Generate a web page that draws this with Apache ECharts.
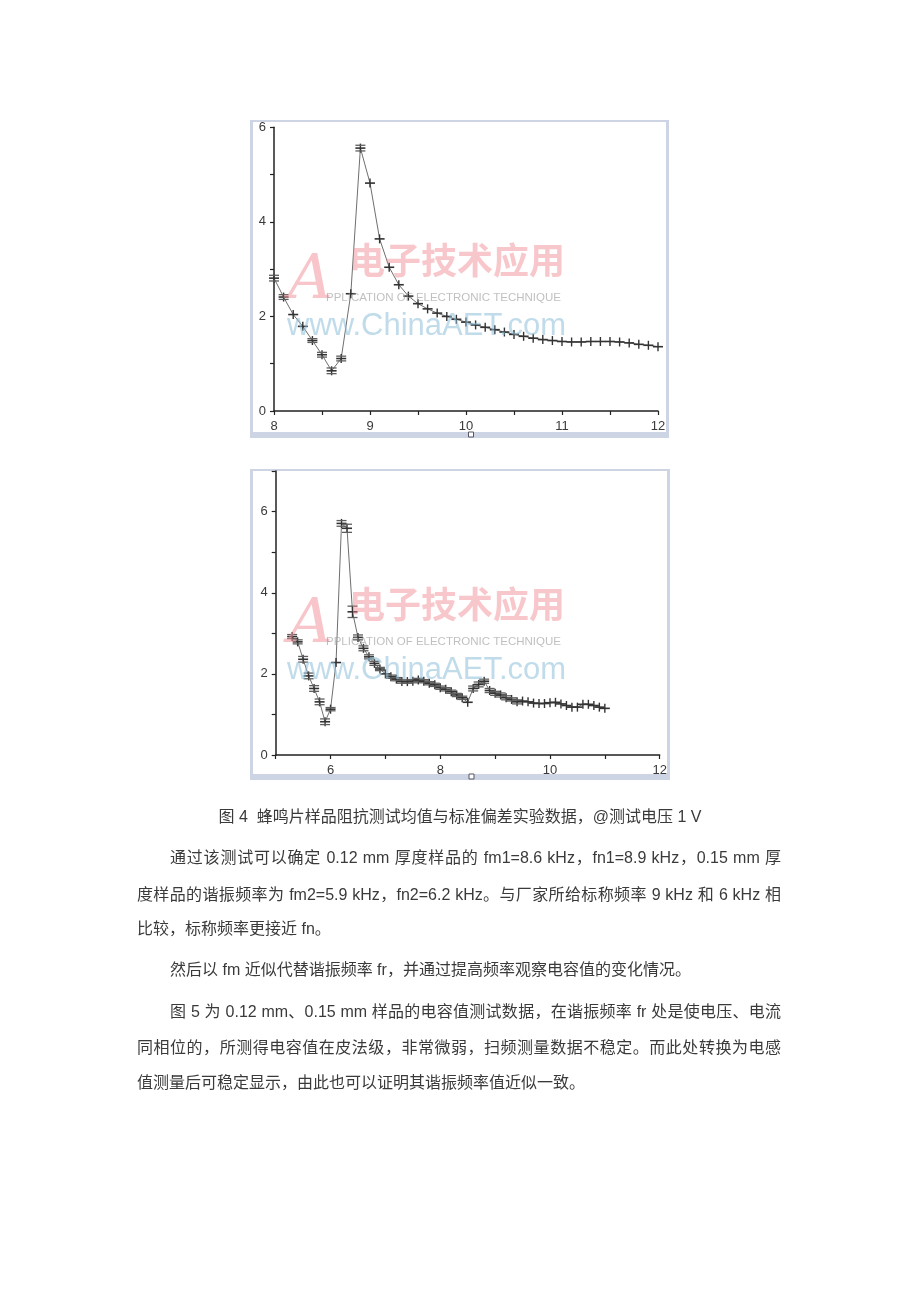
<!DOCTYPE html>
<html>
<head>
<meta charset="utf-8">
<script src="https://cdn.jsdelivr.net/npm/echarts@6/dist/echarts.min.js"></script>
<style>
  html, body { margin: 0; padding: 0; background: #fff; }
  #page { position: relative; width: 920px; height: 1302px; overflow: hidden; }
  #chart { position: absolute; left: 0; top: 0; width: 920px; height: 1302px; }
  .ln { position: absolute; left: 137px; width: 644px; height: 22px; line-height: 22px;
        font-family: "Liberation Sans", "Noto Sans CJK SC", sans-serif; font-size: 16px; color: #3a3a3a;
        white-space: nowrap; }
  .j { text-align: justify; text-align-last: justify; }
  .ind { left: 170px; width: 611px; }
  .cap { left: 0; width: 920px; text-align: center; }
</style>
</head>
<body>
<div id="page">
  <div id="chart"></div>
  <div class="ln cap" style="top:806px">图 4&nbsp; 蜂鸣片样品阻抗测试均值与标准偏差实验数据，@测试电压 1 V</div>
  <div class="ln ind j" style="top:847px">通过该测试可以确定 0.12 mm 厚度样品的 fm1=8.6 kHz，fn1=8.9 kHz，0.15 mm 厚</div>
  <div class="ln j" style="top:884px">度样品的谐振频率为 fm2=5.9 kHz，fn2=6.2 kHz。与厂家所给标称频率 9 kHz 和 6 kHz 相</div>
  <div class="ln" style="top:918px">比较，标称频率更接近 fn。</div>
  <div class="ln ind" style="top:959px">然后以 fm 近似代替谐振频率 fr，并通过提高频率观察电容值的变化情况。</div>
  <div class="ln ind j" style="top:1001px">图 5 为 0.12 mm、0.15 mm 样品的电容值测试数据，在谐振频率 fr 处是使电压、电流</div>
  <div class="ln j" style="top:1037px">同相位的，所测得电容值在皮法级，非常微弱，扫频测量数据不稳定。而此处转换为电感</div>
  <div class="ln" style="top:1072px">值测量后可稳定显示，由此也可以证明其谐振频率值近似一致。</div>
</div>
<script>
// ---------- data ----------
const x1 = [8.0,8.1,8.2,8.3,8.4,8.5,8.6,8.7,8.8,8.9,9.0,9.1,9.2,9.3,9.4,9.5,9.6,9.7,9.8,9.9,10.0,10.1,10.2,10.3,10.4,10.5,10.6,10.7,10.8,10.9,11.0,11.1,11.2,11.3,11.4,11.5,11.6,11.7,11.8,11.9,12.0];
const y1 = [2.81,2.41,2.04,1.79,1.49,1.19,0.85,1.11,2.48,5.56,4.82,3.64,3.04,2.67,2.43,2.27,2.16,2.07,2.00,1.94,1.88,1.82,1.77,1.72,1.67,1.62,1.58,1.54,1.51,1.49,1.47,1.46,1.46,1.47,1.47,1.47,1.46,1.44,1.41,1.39,1.36];
const sd1 = [0.06,0.05,0.03,0.03,0.04,0.05,0.06,0.05,0.02,0.06,0.02,0.03,0.02,0.03,0.03,0.02,0.02,0.02,0.02,0.02,0.02,0.01,0.01,0.01,0.01,0.01,0.01,0.01,0.01,0.01,0.01,0.01,0.01,0.01,0.01,0.01,0.01,0.01,0.01,0.01,0.01];

const x2 = [5.3,5.4,5.5,5.6,5.7,5.8,5.9,6.0,6.1,6.2,6.3,6.4,6.5,6.6,6.7,6.8,6.9,7.0,7.1,7.2,7.3,7.4,7.5,7.6,7.7,7.8,7.9,8.0,8.1,8.2,8.3,8.4,8.5,8.6,8.7,8.8,8.9,9.0,9.1,9.2,9.3,9.4,9.5,9.6,9.7,9.8,9.9,10.0,10.1,10.2,10.3,10.4,10.5,10.6,10.7,10.8,10.9,11.0];
const y2 = [2.92,2.79,2.36,1.95,1.64,1.31,0.82,1.13,2.28,5.71,5.59,3.53,2.90,2.63,2.42,2.26,2.12,2.00,1.93,1.87,1.81,1.81,1.82,1.85,1.82,1.77,1.73,1.66,1.62,1.56,1.48,1.41,1.30,1.64,1.74,1.82,1.59,1.52,1.48,1.41,1.37,1.31,1.33,1.31,1.28,1.27,1.27,1.29,1.30,1.26,1.22,1.18,1.18,1.25,1.25,1.22,1.18,1.15];
const sd2 = [0.05,0.05,0.07,0.07,0.07,0.07,0.07,0.04,0.02,0.07,0.10,0.14,0.06,0.06,0.05,0.05,0.04,0.03,
             0.04,0.04,0.04,0.04,0.04,0.04,0.04,0.04,0.04,0.04,0.04,0.04,0.04,0.04,
             0.02,0.06,0.06,0.05,0.05,0.05,0.05,0.05,0.04,0.05,
             0.02,0.02,0.02,0.02,0.02,0.02,0.02,0.02,0.02,0.02,0.02,0.02,0.02,0.02,0.02,0.02];

const xTicks1 = [8, 9, 10, 11, 12];
const xTicks2 = [6, 8, 10, 12];
const yTicks1 = [0, 2, 4, 6];
const yTicks2 = [0, 2, 4, 6];

// ---------- helpers ----------
function errItem(color, capColor) {
  return function (params, api) {
    const x = api.value(0), y = api.value(1), s = api.value(2);
    const c = api.coord([x, y]);
    const t = api.coord([x, y + s]);
    const b = api.coord([x, y - s]);
    const hw = 5;
    const vt = Math.min(t[1], c[1] - 4.5);
    const vb = Math.max(b[1], c[1] + 4.5);
    const kids = [
      { type: 'line', shape: { x1: c[0], y1: vt, x2: c[0], y2: vb }, style: { stroke: color, lineWidth: 1.4 } },
      { type: 'line', shape: { x1: c[0] - hw, y1: c[1], x2: c[0] + hw, y2: c[1] }, style: { stroke: color, lineWidth: 1.6 } }
    ];
    if (c[1] - t[1] > 1.5) {
      kids.push({ type: 'line', shape: { x1: c[0] - hw, y1: t[1], x2: c[0] + hw, y2: t[1] }, style: { stroke: capColor, lineWidth: 1.3 } });
      kids.push({ type: 'line', shape: { x1: c[0] - hw, y1: b[1], x2: c[0] + hw, y2: b[1] }, style: { stroke: capColor, lineWidth: 1.3 } });
    }
    return { type: 'group', children: kids };
  };
}
function pairs(xs, ys) { return xs.map((v, i) => [v, ys[i]]); }
function triples(xs, ys, ss) { return xs.map((v, i) => [v, ys[i], ss[i]]); }

const axisTxt = { color: '#3a3a3a', fontSize: 13, fontFamily: 'Liberation Sans' };
const axLine = { lineStyle: { color: '#222', width: 1.5 } };
const axTick = { show: true, length: 4, lineStyle: { color: '#222', width: 1.2 } };

function xAxisOf(gi, min, max, interval, ticks) {
  return {
    type: 'value', gridIndex: gi, min: min, max: max, interval: interval,
    axisLine: Object.assign({ onZero: false }, axLine), axisTick: axTick, splitLine: { show: false },
    axisLabel: Object.assign({ margin: 9, formatter: v => (ticks.indexOf(v) >= 0 ? String(v) : ''), showMinLabel: true, showMaxLabel: true }, axisTxt)
  };
}
function yAxisOf(gi, min, max, ticks) {
  return {
    type: 'value', gridIndex: gi, min: min, max: max, interval: 1,
    axisLine: Object.assign({ show: true, onZero: false }, axLine), axisTick: axTick, splitLine: { show: false },
    axisLabel: Object.assign({ margin: 8, formatter: v => (ticks.indexOf(v) >= 0 ? String(v) : ''), showMinLabel: true, showMaxLabel: true }, axisTxt)
  };
}

function watermark(yTop) {
  return [
    { type: 'text', z: 100, x: 288, y: yTop + 22, style: { text: 'A', font: 'italic 62px "DejaVu Serif"', fill: 'rgba(240,140,150,0.5)', textAlign: 'left', textVerticalAlign: 'middle' } },
    { type: 'text', z: 100, x: 349, y: yTop, style: { text: '电子技术应用', font: 'bold 36px "Noto Sans CJK SC"', fill: 'rgba(240,130,140,0.45)', textAlign: 'left', textVerticalAlign: 'middle' } },
    { type: 'text', z: 100, x: 326, y: yTop + 38, style: { text: 'PPLICATION OF ELECTRONIC TECHNIQUE', font: '11.5px "Liberation Sans"', fill: 'rgba(150,150,150,0.6)', textAlign: 'left', textVerticalAlign: 'middle' } },
    { type: 'text', z: 100, x: 287, y: yTop + 66, style: { text: 'www.ChinaAET.com', font: '31px "Liberation Sans"', fill: 'rgba(140,190,215,0.55)', textAlign: 'left', textVerticalAlign: 'middle' } }
  ];
}

function frame(x, y, w, h) {
  return [
    { type: 'rect', z: -10, shape: { x: x, y: y, width: w, height: h }, style: { fill: '#cdd5e5' } },
    { type: 'rect', z: -9, shape: { x: x + 3, y: y + 2, width: w - 6, height: h - 8 }, style: { fill: '#ffffff' } },
    { type: 'rect', z: 5, shape: { x: x + w / 2 + 9, y: y + h - 6, width: 5, height: 5 }, style: { fill: '#fff', stroke: '#556', lineWidth: 1 } }
  ];
}

const chart = echarts.init(document.getElementById('chart'), null, { renderer: 'canvas' });
chart.setOption({
  animation: false,
  backgroundColor: '#ffffff',
  grid: [
    { left: 274, top: 127.3, width: 384, height: 283.7 },
    { left: 275.7, top: 471.1, width: 384, height: 283.9 }
  ],
  xAxis: [ xAxisOf(0, 8, 12, 0.5, xTicks1), xAxisOf(1, 5, 12, 1, xTicks2) ],
  yAxis: [ yAxisOf(0, 0, 6, yTicks1), yAxisOf(1, 0, 7, yTicks2) ],
  graphic: [].concat(
    frame(250, 120, 419, 318),
    frame(250, 469, 420, 311),
    watermark(260),
    watermark(604)
  ),
  series: [
    { type: 'line', xAxisIndex: 0, yAxisIndex: 0, data: pairs(x1, y1), symbol: 'none', lineStyle: { color: '#6f6f6f', width: 1 }, z: 2 },
    { type: 'custom', xAxisIndex: 0, yAxisIndex: 0, data: triples(x1, y1, sd1), renderItem: errItem('#333333', '#5e5e5e'), z: 3 },
    { type: 'line', xAxisIndex: 1, yAxisIndex: 1, data: pairs(x2, y2), symbol: 'none', lineStyle: { color: '#6f6f6f', width: 1 }, z: 2 },
    { type: 'custom', xAxisIndex: 1, yAxisIndex: 1, data: triples(x2, y2, sd2), renderItem: errItem('#333333', '#5e5e5e'), z: 3 }
  ]
});
</script>
</body>
</html>
